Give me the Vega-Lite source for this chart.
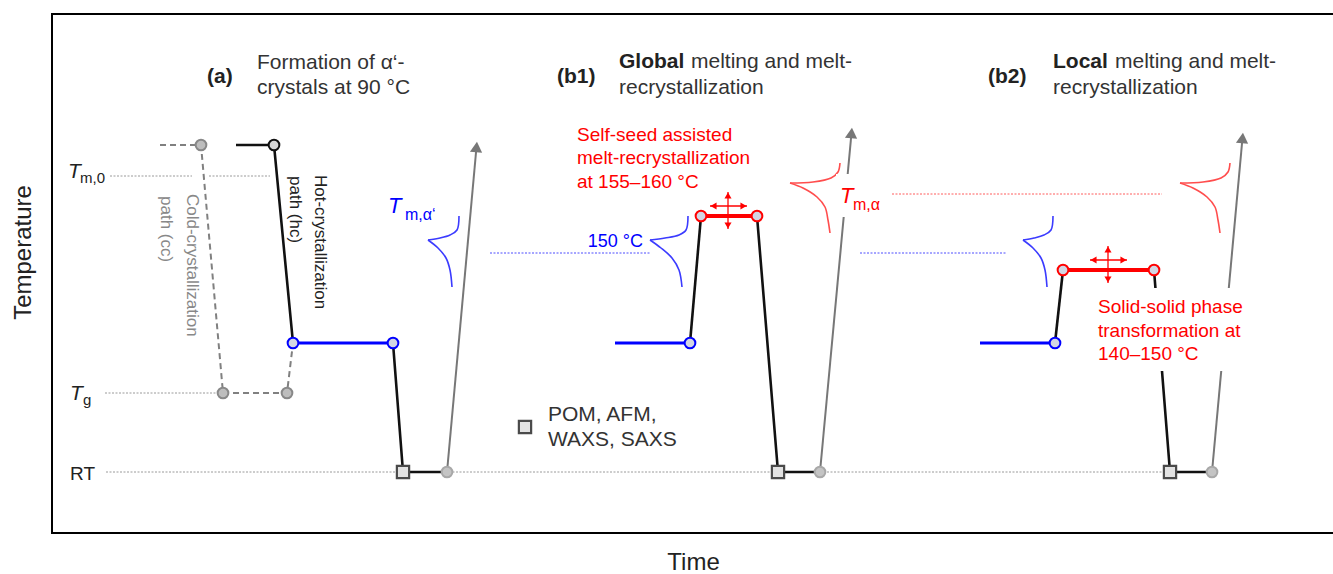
{
  "$schema": "https://vega.github.io/schema/vega-lite/v6.json",
  "width": 1282,
  "height": 519,
  "autosize": "none",
  "padding": {"left": 52, "top": 14, "right": 0, "bottom": 41},
  "config": {"font": "Liberation Sans", "view": {"stroke": "#000", "strokeWidth": 2}},
  "datasets": {
    "refGray": [{"x": 58, "x2": 140, "y": 357}, {"x": 157, "x2": 218, "y": 357}, {"x": 53, "x2": 170, "y": 140}, {"x": 54, "x2": 1118, "y": 61}],
    "refBlue": [{"x": 438, "x2": 598, "y": 280}, {"x": 808, "x2": 955, "y": 280}],
    "refRed": [{"x": 840, "x2": 1110, "y": 339}],
    "cc": [{"x": 108, "y": 388, "o": 1}, {"x": 149, "y": 388, "o": 2}, {"x": 171, "y": 140, "o": 3}, {"x": 235, "y": 140, "o": 4}, {"x": 241, "y": 190, "o": 5}],
    "black": [
      {"s": "a1", "o": 1, "x": 184, "y": 388}, {"s": "a1", "o": 2, "x": 222, "y": 388}, {"s": "a1", "o": 3, "x": 241, "y": 190},
      {"s": "a2", "o": 1, "x": 341, "y": 190}, {"s": "a2", "o": 2, "x": 351, "y": 61}, {"s": "a2", "o": 3, "x": 395, "y": 61},
      {"s": "b1u", "o": 1, "x": 638, "y": 190}, {"s": "b1u", "o": 2, "x": 649, "y": 317},
      {"s": "b1d", "o": 1, "x": 705, "y": 317}, {"s": "b1d", "o": 2, "x": 726, "y": 61}, {"s": "b1d", "o": 3, "x": 768, "y": 61},
      {"s": "b2u", "o": 1, "x": 1003, "y": 190}, {"s": "b2u", "o": 2, "x": 1011, "y": 263},
      {"s": "b2d", "o": 1, "x": 1102, "y": 263}, {"s": "b2d", "o": 2, "x": 1118, "y": 61}, {"s": "b2d", "o": 3, "x": 1160, "y": 61}
    ],
    "blueIso": [{"x": 241, "x2": 341, "y": 190}, {"x": 563, "x2": 638, "y": 190}, {"x": 928, "x2": 1003, "y": 190}],
    "redIso": [{"x": 649, "x2": 705, "y": 317}, {"x": 1011, "x2": 1102, "y": 263}],
    "arrows": [{"x": 395, "y": 61, "x2": 424.5, "y2": 386}, {"x": 768, "y": 61, "x2": 799.5, "y2": 400}, {"x": 1160, "y": 61, "x2": 1190.5, "y2": 395}],
    "heads": [{"x": 424.5, "y": 386}, {"x": 799.5, "y": 400}, {"x": 1190.5, "y": 395}],
    "bluePeaks": [
      {"s": "aU", "o": 1, "x": 407, "y": 317}, {"s": "aU", "o": 2, "x": 405, "y": 303}, {"s": "aU", "o": 3, "x": 398, "y": 298}, {"s": "aU", "o": 4, "x": 388, "y": 295}, {"s": "aU", "o": 5, "x": 376, "y": 293},
      {"s": "aL", "o": 1, "x": 376, "y": 293}, {"s": "aL", "o": 2, "x": 386, "y": 285}, {"s": "aL", "o": 3, "x": 394, "y": 275}, {"s": "aL", "o": 4, "x": 398, "y": 263}, {"s": "aL", "o": 5, "x": 400, "y": 246},
      {"s": "b1U", "o": 1, "x": 636, "y": 317}, {"s": "b1U", "o": 2, "x": 634, "y": 303}, {"s": "b1U", "o": 3, "x": 627, "y": 298}, {"s": "b1U", "o": 4, "x": 613, "y": 295}, {"s": "b1U", "o": 5, "x": 598, "y": 293},
      {"s": "b1L", "o": 1, "x": 598, "y": 293}, {"s": "b1L", "o": 2, "x": 609, "y": 285}, {"s": "b1L", "o": 3, "x": 620, "y": 275}, {"s": "b1L", "o": 4, "x": 627, "y": 263}, {"s": "b1L", "o": 5, "x": 630, "y": 246},
      {"s": "b2U", "o": 1, "x": 1001, "y": 317}, {"s": "b2U", "o": 2, "x": 999, "y": 303}, {"s": "b2U", "o": 3, "x": 992, "y": 298}, {"s": "b2U", "o": 4, "x": 982, "y": 295}, {"s": "b2U", "o": 5, "x": 971, "y": 293},
      {"s": "b2L", "o": 1, "x": 971, "y": 293}, {"s": "b2L", "o": 2, "x": 981, "y": 285}, {"s": "b2L", "o": 3, "x": 989, "y": 275}, {"s": "b2L", "o": 4, "x": 993, "y": 263}, {"s": "b2L", "o": 5, "x": 995, "y": 246}
    ],
    "redPeaks": [
      {"s": "b1U", "o": 1, "x": 788, "y": 370}, {"s": "b1U", "o": 2, "x": 786, "y": 361}, {"s": "b1U", "o": 3, "x": 779, "y": 355}, {"s": "b1U", "o": 4, "x": 761, "y": 351}, {"s": "b1U", "o": 5, "x": 738, "y": 350},
      {"s": "b1L", "o": 1, "x": 738, "y": 350}, {"s": "b1L", "o": 2, "x": 751, "y": 345}, {"s": "b1L", "o": 3, "x": 765, "y": 336}, {"s": "b1L", "o": 4, "x": 773, "y": 326}, {"s": "b1L", "o": 5, "x": 776, "y": 313}, {"s": "b1L", "o": 6, "x": 778, "y": 300},
      {"s": "b2U", "o": 1, "x": 1178, "y": 370}, {"s": "b2U", "o": 2, "x": 1176, "y": 361}, {"s": "b2U", "o": 3, "x": 1169, "y": 355}, {"s": "b2U", "o": 4, "x": 1151, "y": 351}, {"s": "b2U", "o": 5, "x": 1128, "y": 350},
      {"s": "b2L", "o": 1, "x": 1128, "y": 350}, {"s": "b2L", "o": 2, "x": 1141, "y": 345}, {"s": "b2L", "o": 3, "x": 1155, "y": 336}, {"s": "b2L", "o": 4, "x": 1163, "y": 326}, {"s": "b2L", "o": 5, "x": 1166, "y": 313}, {"s": "b2L", "o": 6, "x": 1168, "y": 300}
    ],
    "crossLines": [
      {"x": 658, "x2": 695, "y": 327, "y2": 327}, {"x": 676, "x2": 676, "y": 304, "y2": 341},
      {"x": 1038, "x2": 1075, "y": 273, "y2": 273}, {"x": 1056, "x2": 1056, "y": 250, "y2": 287}
    ],
    "crossHeads": [
      {"x": 661.5, "y": 327, "dir": "left"}, {"x": 691.5, "y": 327, "dir": "right"}, {"x": 676, "y": 337.5, "dir": "up"}, {"x": 676, "y": 307.5, "dir": "down"},
      {"x": 1041.5, "y": 273, "dir": "left"}, {"x": 1071.5, "y": 273, "dir": "right"}, {"x": 1056, "y": 283.5, "dir": "up"}, {"x": 1056, "y": 253.5, "dir": "down"}
    ],
    "masks": [{"x": 784, "x2": 808, "y": 316, "y2": 359}, {"x": 1043, "x2": 1198, "y": 162, "y2": 245}],
    "cGray": [{"x": 149, "y": 388}, {"x": 171, "y": 140}, {"x": 235, "y": 140}],
    "cBlack": [{"x": 222, "y": 388}],
    "cBlue": [{"x": 241, "y": 190}, {"x": 341, "y": 190}, {"x": 638, "y": 190}, {"x": 1003, "y": 190}],
    "cRed": [{"x": 649, "y": 317}, {"x": 705, "y": 317}, {"x": 1011, "y": 263}, {"x": 1102, "y": 263}],
    "cRT": [{"x": 395, "y": 61}, {"x": 768, "y": 61}, {"x": 1160, "y": 61}],
    "squares": [{"x": 351, "y": 61}, {"x": 726, "y": 61}, {"x": 1118, "y": 61}, {"x": 473, "y": 106}],
    "tBold": [{"t": "(a)", "x": 155, "y": 456}, {"t": "(b1)", "x": 505, "y": 456}, {"t": "(b2)", "x": 936, "y": 456}, {"t": "Global", "x": 567, "y": 471}, {"t": "Local", "x": 1001, "y": 471}],
    "tNormal": [
      {"t": "Formation of α‘-", "x": 205, "y": 470}, {"t": "crystals at 90 °C", "x": 205, "y": 445},
      {"t": "melting and melt-", "x": 639, "y": 471}, {"t": "recrystallization", "x": 567, "y": 445},
      {"t": "melting and melt-", "x": 1063, "y": 471}, {"t": "recrystallization", "x": 1001, "y": 445},
      {"t": "POM, AFM,", "x": 496, "y": 118}, {"t": "WAXS, SAXS", "x": 496, "y": 93}
    ],
    "tRed": [
      {"t": "Self-seed assisted", "x": 525, "y": 398}, {"t": "melt-recrystallization", "x": 525, "y": 375}, {"t": "at 155–160 °C", "x": 525, "y": 351},
      {"t": "Solid-solid phase", "x": 1046, "y": 226}, {"t": "transformation at", "x": 1046, "y": 202}, {"t": "140–150 °C", "x": 1046, "y": 179}
    ],
    "tHc": [{"t": "Hot-crystallization", "x": 268, "y": 358}, {"t": "path (hc)", "x": 243, "y": 357}],
    "tCc": [{"t": "Cold-crystallization", "x": 140, "y": 339}, {"t": "path (cc)", "x": 114, "y": 337}],
    "t150": [{"t": "150 °C", "x": 591, "y": 291}],
    "tTblack": [{"t": "T", "x": 16, "y": 355}, {"t": "T", "x": 18, "y": 133}],
    "tSubBlack": [{"t": "m,0", "x": 28, "y": 350}, {"t": "g", "x": 31, "y": 128}],
    "tRT": [{"t": "RT", "x": 18, "y": 53}],
    "tTblue": [{"t": "T", "x": 336, "y": 320}],
    "tSubBlue": [{"t": "m,α‘", "x": 353, "y": 313}],
    "tTred": [{"t": "T", "x": 788, "y": 330}],
    "tSubRed": [{"t": "m,α", "x": 801, "y": 323}]
  },
  "encoding": {
    "x": {"field": "x", "type": "quantitative", "scale": {"domain": [0, 1282], "nice": false, "zero": false},
      "axis": {"title": "Time", "labels": false, "ticks": false, "domain": false, "grid": false, "titleFontSize": 24, "titleFontWeight": "normal", "titleColor": "#222", "titlePadding": 17}},
    "y": {"field": "y", "type": "quantitative", "scale": {"domain": [0, 519], "nice": false, "zero": false},
      "axis": {"title": "Temperature", "labels": false, "ticks": false, "domain": false, "grid": false, "titleFontSize": 24, "titleFontWeight": "normal", "titleColor": "#222", "titlePadding": 17, "titleY": 238}}
  },
  "layer": [
    {"data": {"name": "refGray"}, "mark": {"type": "rule", "stroke": "#9a9a9a", "strokeWidth": 1, "strokeDash": [2, 1.5]}, "encoding": {"x2": {"field": "x2"}}},
    {"data": {"name": "refBlue"}, "mark": {"type": "rule", "stroke": "#4d4dff", "strokeWidth": 1, "strokeDash": [2, 1.5]}, "encoding": {"x2": {"field": "x2"}}},
    {"data": {"name": "refRed"}, "mark": {"type": "rule", "stroke": "#ff5c5c", "strokeWidth": 1, "strokeDash": [2, 1.5]}, "encoding": {"x2": {"field": "x2"}}},
    {"data": {"name": "cc"}, "mark": {"type": "line", "stroke": "#808080", "strokeWidth": 2, "strokeDash": [6, 4]}, "encoding": {"order": {"field": "o"}}},
    {"data": {"name": "black"}, "mark": {"type": "line", "stroke": "#111", "strokeWidth": 2.6}, "encoding": {"detail": {"field": "s"}, "order": {"field": "o"}}},
    {"data": {"name": "blueIso"}, "mark": {"type": "rule", "stroke": "#0000ff", "strokeWidth": 3.2}, "encoding": {"x2": {"field": "x2"}}},
    {"data": {"name": "redIso"}, "mark": {"type": "rule", "stroke": "#ff0000", "strokeWidth": 4}, "encoding": {"x2": {"field": "x2"}}},
    {"data": {"name": "arrows"}, "mark": {"type": "rule", "stroke": "#777", "strokeWidth": 2}, "encoding": {"x2": {"field": "x2"}, "y2": {"field": "y2"}}},
    {"data": {"name": "heads"}, "mark": {"type": "point", "shape": "triangle-up", "filled": true, "fill": "#777", "stroke": null, "opacity": 1, "size": 150, "angle": 5}},
    {"data": {"name": "bluePeaks"}, "mark": {"type": "line", "stroke": "#3b3bff", "strokeWidth": 1.6, "interpolate": "catmull-rom"}, "encoding": {"detail": {"field": "s"}, "order": {"field": "o"}}},
    {"data": {"name": "redPeaks"}, "mark": {"type": "line", "stroke": "#ff4d4d", "strokeWidth": 1.6, "interpolate": "catmull-rom"}, "encoding": {"detail": {"field": "s"}, "order": {"field": "o"}}},
    {"data": {"name": "crossLines"}, "mark": {"type": "rule", "stroke": "#ff0000", "strokeWidth": 1.3}, "encoding": {"x2": {"field": "x2"}, "y2": {"field": "y2"}}},
    {"data": {"name": "crossHeads"}, "mark": {"type": "point", "filled": true, "fill": "#ff0000", "stroke": null, "opacity": 1, "size": 50},
      "encoding": {"shape": {"field": "dir", "type": "nominal", "legend": null, "scale": {"domain": ["left", "right", "up", "down"], "range": ["triangle-left", "triangle-right", "triangle-up", "triangle-down"]}}}},
    {"data": {"name": "masks"}, "mark": {"type": "rect", "fill": "#ffffff", "stroke": null}, "encoding": {"x2": {"field": "x2"}, "y2": {"field": "y2"}}},
    {"data": {"name": "cGray"}, "mark": {"type": "point", "shape": "circle", "filled": true, "fill": "#bdbdbd", "stroke": "#888", "strokeWidth": 2, "opacity": 1, "size": 115}},
    {"data": {"name": "cBlack"}, "mark": {"type": "point", "shape": "circle", "filled": true, "fill": "#d6d6d6", "stroke": "#111", "strokeWidth": 2, "opacity": 1, "size": 115}},
    {"data": {"name": "cBlue"}, "mark": {"type": "point", "shape": "circle", "filled": true, "fill": "#d3d6e3", "stroke": "#0000ff", "strokeWidth": 2, "opacity": 1, "size": 115}},
    {"data": {"name": "cRed"}, "mark": {"type": "point", "shape": "circle", "filled": true, "fill": "#d3d6e3", "stroke": "#ff0000", "strokeWidth": 2, "opacity": 1, "size": 115}},
    {"data": {"name": "cRT"}, "mark": {"type": "point", "shape": "circle", "filled": true, "fill": "#c4c4c4", "stroke": "#a8a8a8", "strokeWidth": 2, "opacity": 1, "size": 115}},
    {"data": {"name": "squares"}, "mark": {"type": "point", "shape": "square", "filled": true, "fill": "#e2e2e2", "stroke": "#4a4a4a", "strokeWidth": 2.2, "opacity": 1, "size": 150}},
    {"data": {"name": "tBold"}, "mark": {"type": "text", "fontSize": 21, "fontWeight": "bold", "color": "#222", "align": "left", "baseline": "middle"}, "encoding": {"text": {"field": "t"}}},
    {"data": {"name": "tNormal"}, "mark": {"type": "text", "fontSize": 21, "color": "#333", "align": "left", "baseline": "middle"}, "encoding": {"text": {"field": "t"}}},
    {"data": {"name": "tRed"}, "mark": {"type": "text", "fontSize": 19, "color": "#ff0000", "align": "left", "baseline": "middle"}, "encoding": {"text": {"field": "t"}}},
    {"data": {"name": "tHc"}, "mark": {"type": "text", "fontSize": 17, "color": "#222", "align": "left", "baseline": "middle", "angle": 90}, "encoding": {"text": {"field": "t"}}},
    {"data": {"name": "tCc"}, "mark": {"type": "text", "fontSize": 17, "color": "#888", "align": "left", "baseline": "middle", "angle": 90}, "encoding": {"text": {"field": "t"}}},
    {"data": {"name": "t150"}, "mark": {"type": "text", "fontSize": 18, "color": "#0000ff", "align": "right", "baseline": "middle"}, "encoding": {"text": {"field": "t"}}},
    {"data": {"name": "tTblack"}, "mark": {"type": "text", "fontSize": 21, "fontStyle": "italic", "color": "#222", "align": "left", "baseline": "alphabetic"}, "encoding": {"text": {"field": "t"}}},
    {"data": {"name": "tSubBlack"}, "mark": {"type": "text", "fontSize": 15, "color": "#222", "align": "left", "baseline": "alphabetic"}, "encoding": {"text": {"field": "t"}}},
    {"data": {"name": "tRT"}, "mark": {"type": "text", "fontSize": 19, "color": "#222", "align": "left", "baseline": "alphabetic"}, "encoding": {"text": {"field": "t"}}},
    {"data": {"name": "tTblue"}, "mark": {"type": "text", "fontSize": 22, "fontStyle": "italic", "color": "#0000ff", "align": "left", "baseline": "alphabetic"}, "encoding": {"text": {"field": "t"}}},
    {"data": {"name": "tSubBlue"}, "mark": {"type": "text", "fontSize": 16, "color": "#0000ff", "align": "left", "baseline": "alphabetic"}, "encoding": {"text": {"field": "t"}}},
    {"data": {"name": "tTred"}, "mark": {"type": "text", "fontSize": 22, "fontStyle": "italic", "color": "#ff0000", "align": "left", "baseline": "alphabetic"}, "encoding": {"text": {"field": "t"}}},
    {"data": {"name": "tSubRed"}, "mark": {"type": "text", "fontSize": 16, "color": "#ff0000", "align": "left", "baseline": "alphabetic"}, "encoding": {"text": {"field": "t"}}}
  ]
}
